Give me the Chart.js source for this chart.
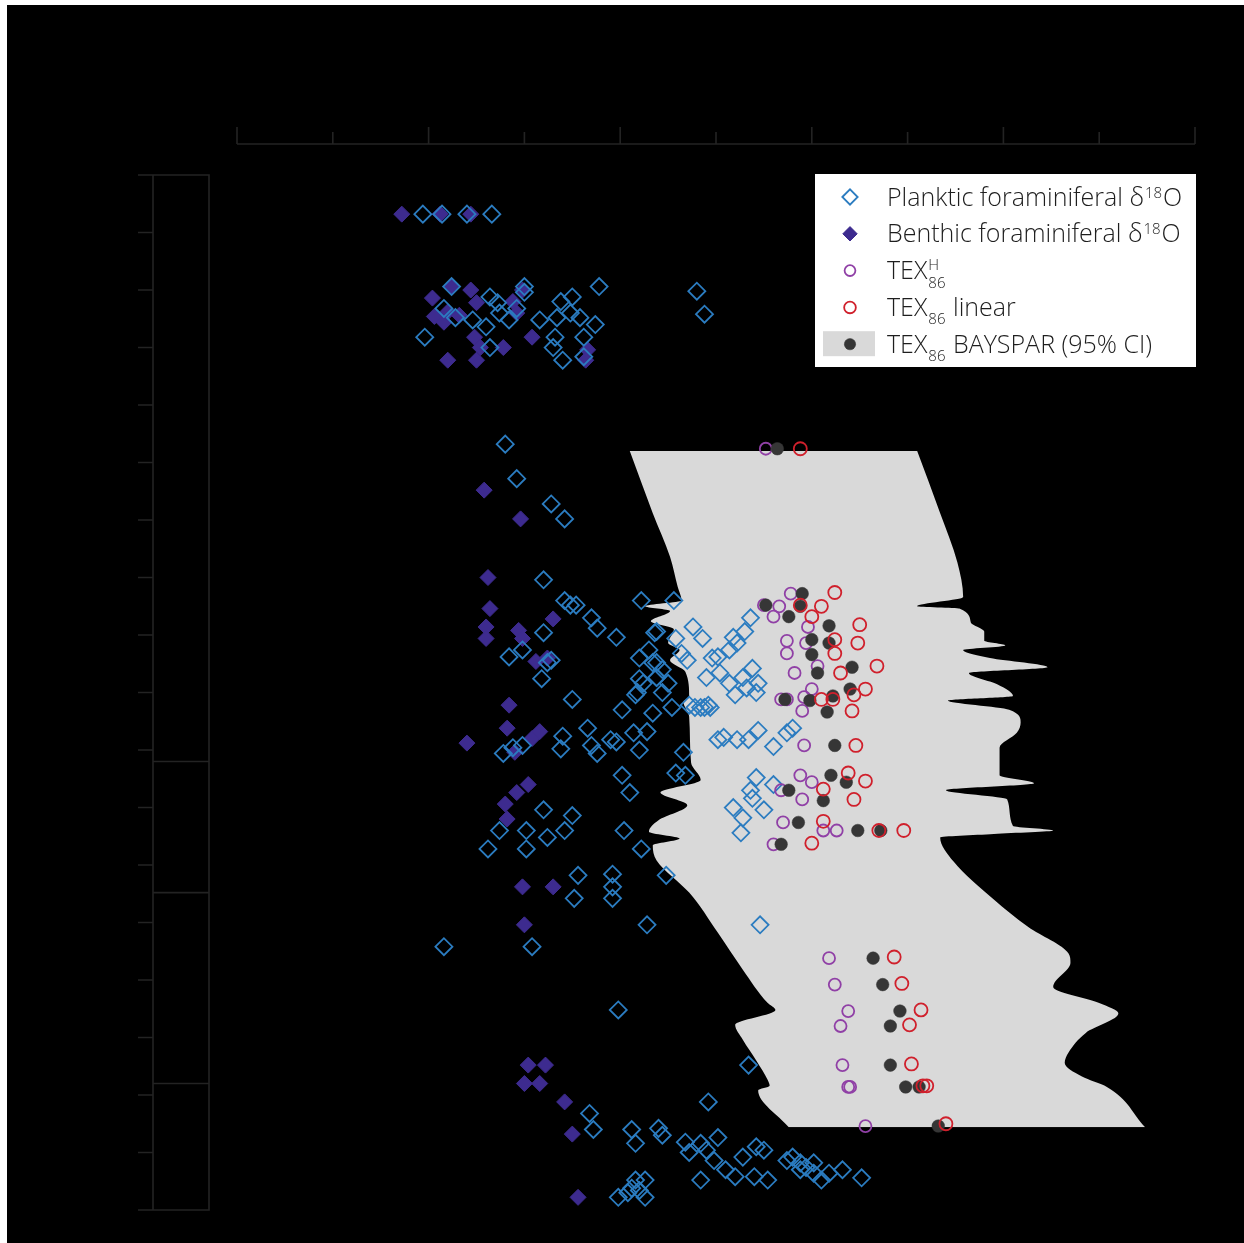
<!DOCTYPE html>
<html>
<head>
<meta charset="utf-8">
<script src="https://cdn.jsdelivr.net/npm/chart.js@4.4.1/dist/chart.umd.min.js"></script>
<style>
  html, body { margin: 0; padding: 0; background: #fff; }
  #wrap { position: relative; width: 1244px; height: 1243px; background: #fff; overflow: hidden; }
  #bg { position: absolute; left: 7px; top: 5px; right: 0; bottom: 0; background: #000; }
  #chart { position: absolute; left: 0; top: 0; }
</style>
</head>
<body>
<div id="wrap"><div id="bg"></div><canvas id="chart" width="1244" height="1243"></canvas></div>
<script>
// axis ranges (top axis = temperature / proxy value, left axis = depth, downwards)
const xTicks = [0, 5, 10, 15, 20, 25, 30, 35, 40, 45, 50];
const depthTicks = [0, 5, 10, 15, 20, 25, 30, 35, 40, 45, 50, 55, 60, 65, 70, 75, 80, 85, 90];
const columnBreaks = [51.0, 62.4, 79.0];

// [value, depth]
const planktic = [
  [9.7,3.4],[10.7,3.4],[12.0,3.4],[13.3,3.4],
  [11.2,9.7],[15.0,9.7],[15.0,10.2],[18.9,9.7],[24.0,10.1],[24.4,12.1],[10.8,11.6],[11.4,12.4],[9.8,14.1],
  [13.2,10.6],[13.6,11.1],[13.7,12.0],[14.2,12.6],[14.6,11.6],[13.0,13.2],[13.2,15.0],[12.3,12.6],[15.8,12.6],
  [16.9,11.0],[17.5,10.6],[16.7,12.4],[17.4,12.0],[17.9,12.4],[18.7,13.0],[16.6,14.1],[18.1,14.1],[16.5,15.0],
  [17.0,16.1],[18.1,15.8],
  [14.0,23.4],[14.6,26.4],[16.4,28.6],[17.1,29.9],[16.0,35.2],[17.1,37.0],[17.4,37.4],[17.7,37.4],[18.5,38.5],
  [18.8,39.4],[19.8,40.2],[16.0,39.8],[14.9,41.3],[14.2,41.9],[16.4,42.2],[16.2,42.4],[15.9,43.8],[17.5,45.6],
  [21.1,37.0],[21.8,39.8],[21.0,42.0],[21.5,41.3],[21.7,42.4],[21.0,43.8],[21.9,43.7],[20.8,45.2],[20.1,46.5],
  [21.7,46.8],[18.3,48.1],[19.5,49.1],[20.7,48.5],[21.0,50.0],[21.4,48.4],[17.0,48.8],[16.9,49.9],[18.5,49.6],
  [18.8,50.3],[19.8,49.3],[13.9,50.3],[14.9,49.6],[14.4,49.8],[20.1,52.2],[20.5,53.7],[16.0,55.2],[17.5,55.7],
  [17.1,57.0],[13.7,57.0],[15.1,57.0],[16.2,57.6],[15.1,58.6],[13.1,58.6],[20.2,57.0],[21.1,58.6],[17.8,60.9],
  [19.6,60.8],[19.6,61.9],[17.6,62.9],[19.6,62.9],[22.4,60.9],[21.4,65.2],[15.4,67.1],[10.8,67.1],[19.9,72.6],
  [27.3,65.2],[26.7,77.4],[24.6,80.6],[18.4,81.6],[18.6,83.0],[20.6,83.0],[20.8,84.2],[22.0,82.9],[22.2,83.5],
  [23.4,84.1],[23.6,85.0],[24.2,84.2],[25.1,83.7],[24.5,84.8],[24.9,85.7],[24.2,87.4],[25.5,86.5],[26.0,87.1],
  [26.4,85.4],[27.1,84.5],[27.5,84.8],[27.0,87.1],[27.7,87.4],[28.7,85.7],[29.0,85.4],[29.4,85.9],[29.7,86.3],
  [30.1,86.8],[30.5,87.4],[30.9,86.8],[31.6,86.5],[32.6,87.2],[29.4,86.5],[30.1,85.9],[19.9,88.9],[20.6,88.1],
  [21.3,88.9],[21.3,87.4],[20.8,87.4],[20.4,88.5],[21.0,88.3],
  [22.8,37.0],[21.9,39.7],[22.9,40.3],[23.8,39.3],[24.3,40.3],[26.8,38.5],[26.5,39.7],[25.9,40.2],[26.1,40.7],
  [25.7,41.3],[25.1,41.9],[24.8,42.0],[23.5,42.2],[23.2,41.6],[21.9,42.4],[22.2,43.0],[21.9,43.7],[22.5,44.2],
  [21.2,44.2],[20.9,45.0],[22.2,45.0],[22.7,46.3],[23.6,46.1],[24.2,46.3],[24.6,46.1],[23.9,46.3],[24.4,46.3],
  [24.7,46.3],[24.5,43.7],[25.2,43.3],[25.7,44.2],[26.0,45.2],[26.4,43.7],[26.9,42.9],[26.6,44.6],[27.2,44.2],
  [27.1,45.0],[25.1,49.1],[25.4,48.9],[26.1,49.1],[26.7,49.1],[27.2,48.3],[28.0,49.7],[28.7,48.5],[29.0,48.1],
  [23.3,50.2],[22.9,52.0],[23.4,52.2],[27.1,52.4],[28.0,53.0],[26.8,53.5],[25.9,55.0],[26.4,55.9],[27.5,55.2],
  [26.9,54.2],[26.3,57.2]
];

const benthic = [
  [8.6,3.4],[10.6,3.4],[12.2,3.4],[11.2,9.7],[10.2,10.7],[12.2,10.0],[12.5,11.1],[10.3,12.3],[11.0,11.9],
  [11.6,12.2],[10.8,12.8],[14.4,11.0],[14.6,12.0],[12.4,14.1],[12.7,15.0],[13.9,15.0],[15.4,14.1],[11.0,16.1],
  [12.5,16.1],[18.3,15.2],[18.2,16.1],[14.9,10.0],[12.9,27.4],[14.8,29.9],[13.1,35.0],[13.2,37.7],[13.0,39.3],
  [13.0,40.3],[14.7,39.6],[14.9,40.3],[16.5,38.6],[15.6,42.3],[16.2,42.0],[14.2,46.1],[14.1,48.1],[12.0,49.4],
  [15.4,49.0],[15.8,48.4],[14.5,50.2],[15.2,53.0],[14.6,53.7],[14.0,54.7],[14.1,56.0],[14.9,61.9],[16.5,61.9],
  [15.0,65.2],[15.2,77.4],[16.1,77.4],[15.0,79.0],[15.8,79.0],[17.1,80.6],[17.5,83.4],[17.8,88.9]
];

const tex86H = [
  [27.6,23.8],[28.9,36.4],[27.5,37.4],[28.3,37.5],[28.0,38.4],[29.8,39.3],[28.7,40.5],[29.7,40.7],[28.7,41.6],
  [30.3,42.7],[29.1,43.3],[30.0,44.7],[29.6,45.4],[28.4,45.6],[28.7,45.6],[29.5,46.6],[29.6,49.6],[29.4,52.2],
  [30.0,52.8],[28.4,53.5],[29.5,54.3],[28.5,56.3],[30.6,57.0],[31.3,57.0],[28.0,58.2],[30.9,68.1],[31.2,70.4],
  [31.9,72.7],[31.5,74.0],[31.6,77.4],[31.9,79.3],[32.0,79.3],[32.8,82.7]
];

const tex86Bayspar = [
  [28.2,23.8],[29.5,36.4],[27.6,37.4],[29.4,37.5],[28.8,38.4],[30.9,39.2],[30.0,40.4],[30.9,40.7],[30.0,41.7],
  [32.1,42.8],[30.3,43.3],[32.0,44.7],[31.1,45.3],[29.9,45.7],[28.6,45.6],[30.8,46.7],[31.2,49.6],[31.0,52.2],
  [31.8,52.8],[28.8,53.5],[30.6,54.4],[29.3,56.3],[32.4,57.0],[33.6,57.0],[28.4,58.2],[33.2,68.1],[33.7,70.4],
  [34.6,72.7],[34.1,74.0],[34.1,77.4],[34.9,79.3],[35.6,79.3],[36.6,82.7]
];

const tex86Linear = [
  [29.4,23.8],[31.2,36.3],[29.4,37.4],[30.5,37.5],[30.0,38.4],[32.5,39.1],[31.2,40.4],[32.4,40.7],[31.2,41.6],
  [33.4,42.7],[31.5,43.3],[32.8,44.7],[32.2,45.2],[30.5,45.6],[31.1,45.6],[32.1,46.6],[32.3,49.6],[31.9,52.0],
  [32.8,52.7],[30.6,53.4],[32.2,54.3],[30.6,56.2],[33.5,57.0],[34.8,57.0],[30.0,58.1],[34.3,68.0],[34.7,70.3],
  [35.7,72.6],[35.1,73.9],[35.2,77.3],[35.8,79.2],[36.0,79.2],[37.0,82.5]
];

// BAYSPAR 95% CI envelope, lower and upper bound per depth
const ciLower = [
  [20.5,24.0],[21.7,29.4],[22.6,33.2],[23.0,35.8],[23.2,37.0],[21.3,37.5],[22.6,37.9],[21.6,38.8],[22.8,39.5],
  [22.5,40.7],[23.1,41.3],[22.6,42.2],[23.4,43.2],[23.6,45.4],[23.3,45.8],[23.6,47.1],[23.7,51.1],[24.2,52.6],
  [22.1,53.7],[23.5,54.8],[22.0,56.1],[21.5,57.1],[23.1,57.7],[21.7,58.3],[21.9,59.6],[23.6,62.4],[25.1,65.9],
  [26.4,69.1],[27.7,72.0],[28.1,72.6],[26.0,73.9],[26.4,75.2],[27.1,77.0],[27.7,78.7],[27.8,79.2],[27.2,79.6],
  [28.8,82.8]
];
const ciUpper = [
  [35.5,24.0],[36.7,29.4],[37.6,33.7],[37.9,36.7],[35.5,37.5],[37.7,37.7],[38.3,38.9],[39.0,39.7],[39.0,40.5],
  [40.1,40.9],[37.9,41.3],[39.3,42.0],[42.3,42.8],[38.2,43.3],[39.7,44.3],[40.5,45.3],[37.1,45.7],[40.3,46.5],
  [40.9,47.6],[40.7,48.5],[39.8,49.8],[39.8,52.2],[41.6,52.9],[37.0,53.5],[40.2,54.3],[40.5,56.6],[42.6,57.0],
  [39.5,57.3],[36.7,57.6],[37.4,59.7],[39.5,63.0],[41.3,65.4],[43.4,67.7],[43.5,68.5],[42.6,70.6],[45.0,72.0],
  [46.0,72.9],[44.3,74.6],[43.4,76.3],[43.2,77.2],[44.1,78.4],[45.4,79.3],[47.4,82.8]
];

const colors = {
  planktic: '#2b7cc0',
  benthic: '#3d2b8f',
  texH: '#9040a6',
  bayspar: '#363636',
  linear: '#d0202c',
  band: '#d9d9d9',
  axis: '#232323',
  text: '#1e1e1e'
};

const toPts = arr => arr.map(p => ({ x: p[0], y: p[1] }));

// axis frame and stratigraphic column (drawn from the scales)
const frame = {
  id: 'frame',
  beforeDraw(chart) {
    const { ctx, chartArea } = chart;
    const x = chart.scales.x, y = chart.scales.y;
    ctx.save();
    ctx.strokeStyle = colors.axis;
    ctx.lineWidth = 1.6;
    ctx.beginPath();
    const top = chartArea.top;
    ctx.moveTo(x.getPixelForValue(xTicks[0]), top);
    ctx.lineTo(x.getPixelForValue(xTicks[xTicks.length - 1]), top);
    xTicks.forEach((v, i) => {
      const px = x.getPixelForValue(v);
      ctx.moveTo(px, top);
      ctx.lineTo(px, top - (i % 2 ? 12 : 17));
    });
    const ax = 153, colRight = 209, tick = 15;
    const y0 = y.getPixelForValue(depthTicks[0]);
    const y1 = y.getPixelForValue(depthTicks[depthTicks.length - 1]);
    ctx.moveTo(ax, y0); ctx.lineTo(ax, y1);
    depthTicks.forEach(v => {
      const py = y.getPixelForValue(v);
      ctx.moveTo(ax - tick, py); ctx.lineTo(ax, py);
    });
    ctx.rect(ax, y0, colRight - ax, y1 - y0);
    columnBreaks.forEach(v => {
      const py = y.getPixelForValue(v);
      ctx.moveTo(ax, py); ctx.lineTo(colRight, py);
    });
    ctx.stroke();
    ctx.restore();
  }
};

const legendItems = [
  { key: 'planktic', parts: [['Planktic foraminiferal δ'], ['18', 'sup'], ['O']] },
  { key: 'benthic', parts: [['Benthic foraminiferal δ'], ['18', 'sup'], ['O']] },
  { key: 'texH', parts: [['TEX'], ['H', 'supsub', '86']] },
  { key: 'linear', parts: [['TEX'], ['86', 'sub'], [' linear']] },
  { key: 'bayspar', parts: [['TEX'], ['86', 'sub'], [' BAYSPAR (95% CI)']] }
];

const bigFont = '300 25px "Open Sans"';
const smallFont = '300 15px "Open Sans"';

function drawRich(ctx, x, base, parts) {
  parts.forEach(p => {
    const [t, kind, t2] = p;
    if (!kind) {
      ctx.font = bigFont;
      ctx.fillText(t, x, base);
      x += ctx.measureText(t).width;
    } else if (kind === 'sup') {
      ctx.font = smallFont;
      ctx.fillText(t, x + 1, base - 8);
      x += ctx.measureText(t).width + 2;
    } else if (kind === 'sub') {
      ctx.font = smallFont;
      ctx.fillText(t, x + 1, base + 8);
      x += ctx.measureText(t).width + 2;
    } else {
      ctx.font = smallFont;
      ctx.fillText(t, x + 1, base - 9);
      ctx.fillText(t2, x + 1, base + 9);
      x += Math.max(ctx.measureText(t).width, ctx.measureText(t2).width) + 2;
    }
  });
}

const legendBox = {
  id: 'legendBox',
  afterDraw(chart) {
    const ctx = chart.ctx;
    const box = { x: 815, y: 174, w: 381, h: 193 };
    ctx.save();
    ctx.fillStyle = '#fff';
    ctx.fillRect(box.x, box.y, box.w, box.h);
    const mx = 850, tx = 887;
    legendItems.forEach((item, i) => {
      const cy = 197 + i * 36.8;
      const ds = chart.data.datasets.find(d => d.key === item.key);
      if (item.key === 'bayspar') {
        ctx.fillStyle = colors.band;
        ctx.fillRect(823, cy - 13, 52, 25);
      }
      ctx.fillStyle = ds.pointBackgroundColor;
      ctx.strokeStyle = ds.pointBorderColor;
      ctx.lineWidth = ds.pointBorderWidth;
      Chart.helpers.drawPoint(ctx, {
        pointStyle: ds.pointStyle, rotation: 0,
        radius: ds.pointRadius * 0.9, borderWidth: ds.pointBorderWidth
      }, mx, cy);
      ctx.fillStyle = colors.text;
      ctx.textBaseline = 'alphabetic';
      drawRich(ctx, tx, cy + 8.5, item.parts);
    });
    ctx.restore();
  }
};

new Chart(document.getElementById('chart'), {
  type: 'scatter',
  data: {
    datasets: [
      {
        label: 'CI lower', type: 'line', indexAxis: 'y', data: toPts(ciLower),
        borderColor: 'rgba(0,0,0,0)', borderWidth: 0, pointRadius: 0, fill: false,
        cubicInterpolationMode: 'monotone', order: 10
      },
      {
        label: 'TEX86 BAYSPAR 95% CI', type: 'line', indexAxis: 'y', data: toPts(ciUpper),
        borderColor: 'rgba(0,0,0,0)', borderWidth: 0, pointRadius: 0, fill: '-1',
        backgroundColor: colors.band, cubicInterpolationMode: 'monotone', order: 9
      },
      {
        key: 'benthic', label: 'Benthic foraminiferal δ18O', data: toPts(benthic), order: 5,
        pointStyle: 'rectRot', pointRadius: 8, pointBorderWidth: 1,
        pointBackgroundColor: colors.benthic, pointBorderColor: colors.benthic
      },
      {
        key: 'planktic', label: 'Planktic foraminiferal δ18O', data: toPts(planktic), order: 4,
        pointStyle: 'rectRot', pointRadius: 8.5, pointBorderWidth: 1.8,
        pointBackgroundColor: 'rgba(0,0,0,0)', pointBorderColor: colors.planktic
      },
      {
        key: 'texH', label: 'TEX86H', data: toPts(tex86H), order: 3,
        pointStyle: 'circle', pointRadius: 6, pointBorderWidth: 1.8,
        pointBackgroundColor: 'rgba(0,0,0,0)', pointBorderColor: colors.texH
      },
      {
        key: 'bayspar', label: 'TEX86 BAYSPAR', data: toPts(tex86Bayspar), order: 2,
        pointStyle: 'circle', pointRadius: 6.3, pointBorderWidth: 0.5,
        pointBackgroundColor: colors.bayspar, pointBorderColor: colors.bayspar
      },
      {
        key: 'linear', label: 'TEX86 linear', data: toPts(tex86Linear), order: 1,
        pointStyle: 'circle', pointRadius: 6.5, pointBorderWidth: 1.8,
        pointBackgroundColor: 'rgba(0,0,0,0)', pointBorderColor: colors.linear
      }
    ]
  },
  options: {
    responsive: false,
    animation: false,
    events: [],
    layout: { padding: { left: 237, right: 49, top: 144, bottom: 33 } },
    scales: {
      x: { type: 'linear', display: false, min: 0, max: 50 },
      y: { type: 'linear', display: false, min: -2.7, max: 90, reverse: true }
    },
    plugins: {
      legend: { display: false },
      tooltip: { enabled: false }
    }
  },
  plugins: [frame, legendBox]
});
</script>
</body>
</html>
